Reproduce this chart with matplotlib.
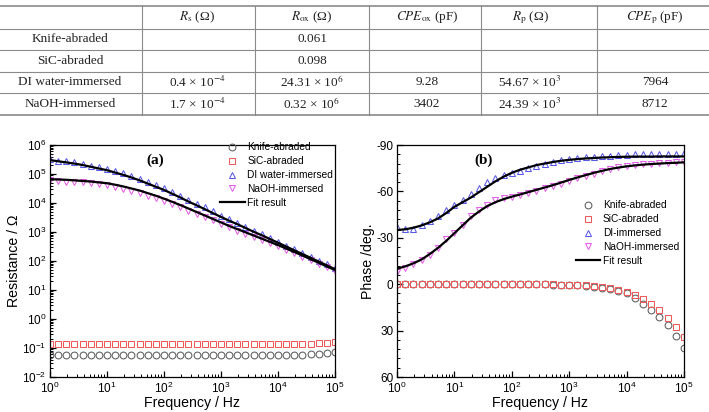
import numpy as np
import matplotlib
matplotlib.use("Agg")
import matplotlib.pyplot as plt
from matplotlib.ticker import AutoMinorLocator, LogLocator, NullFormatter

plt.rcParams['font.family'] = ['Liberation Sans', 'DejaVu Sans']
plt.rcParams['mathtext.fontset'] = 'stix'
plt.rcParams['axes.unicode_minus'] = False

# ---- table data ----
table_header = ["", r"$R_\mathrm{s}$ (Ω)", r"$R_\mathrm{ox}$ (Ω)",
                r"$CPE_\mathrm{ox}$ (pF)", r"$R_\mathrm{p}$ (Ω)",
                r"$CPE_\mathrm{p}$ (pF)"]
table_samples = ["Knife-abraded", "SiC-abraded", "DI water-immersed",
                 "NaOH-immersed"]
table_cells = [
    ["", "0.061", "", "", ""],
    ["", "0.098", "", "", ""],
    [r"0.4 × 10$^{-4}$", r"24.31 × 10$^{6}$", "9.28", r"54.67 × 10$^{3}$", "7964"],
    [r"1.7 × 10$^{-4}$", r"0.32 × 10$^{6}$", "3402", r"24.39 × 10$^{3}$", "8712"],
]

# ---- measurement data (7 points per decade) ----
freq = [1.0, 1.389, 1.931, 2.683, 3.728, 5.179, 7.197,
        10.0, 13.89, 19.31, 26.83, 37.28, 51.79, 71.97,
        100.0, 138.9, 193.1, 268.3, 372.8, 517.9, 719.7,
        1000.0, 1389, 1931, 2683, 3728, 5179, 7197,
        1.0e4, 1.389e4, 1.931e4, 2.683e4, 3.728e4, 5.179e4, 7.197e4,
        1.0e5]

# |Z| (ohm)
knife_z = [0.057, 0.057, 0.057, 0.057, 0.057, 0.057, 0.057,
           0.057, 0.057, 0.057, 0.057, 0.057, 0.057, 0.057,
           0.057, 0.057, 0.057, 0.057, 0.057, 0.057, 0.057,
           0.057, 0.057, 0.057, 0.057, 0.057, 0.057, 0.057,
           0.057, 0.057, 0.058, 0.059, 0.060, 0.062, 0.066, 0.072]
sic_z = [0.135, 0.135, 0.135, 0.135, 0.135, 0.135, 0.135,
         0.135, 0.135, 0.135, 0.135, 0.135, 0.135, 0.135,
         0.135, 0.135, 0.135, 0.135, 0.135, 0.135, 0.135,
         0.135, 0.135, 0.135, 0.135, 0.135, 0.135, 0.135,
         0.135, 0.135, 0.136, 0.138, 0.140, 0.145, 0.150, 0.160]
di_z = [3.3e5, 2.9e5, 2.7e5, 2.5e5, 2.2e5, 1.95e5, 1.7e5,
        1.45e5, 1.25e5, 1.05e5, 8.5e4, 6.8e4, 5.3e4, 4.1e4,
        3.2e4, 2.4e4, 1.8e4, 1.3e4, 9.5e3, 7.0e3, 5.1e3,
        3.7e3, 2.7e3, 2.0e3, 1.5e3, 1.1e3, 830, 610,
        450, 335, 250, 185, 138, 102, 76, 57]
naoh_z = [6.0e4, 5.6e4, 5.5e4, 5.3e4, 5.2e4, 5.0e4, 4.6e4,
          4.2e4, 3.6e4, 3.1e4, 2.6e4, 2.2e4, 1.8e4, 1.45e4,
          1.15e4, 9.0e3, 7.0e3, 5.4e3, 4.2e3, 3.2e3, 2.5e3,
          1.9e3, 1.45e3, 1.12e3, 870, 680, 530, 415,
          320, 245, 186, 140, 105, 80, 60, 45]
di_z_fit = [3.02e5, 2.75e5, 2.51e5, 2.29e5, 2.04e5, 1.78e5, 1.55e5,
            1.35e5, 1.12e5, 9.33e4, 7.59e4, 6.03e4, 4.68e4, 3.63e4,
            2.82e4, 2.09e4, 1.55e4, 1.12e4, 8.32e3, 6.17e3, 4.47e3,
            3.31e3, 2.45e3, 1.86e3, 1.38e3, 1.02e3, 776, 575,
            427, 316, 234, 174, 129, 95.5, 70.8, 52.5]
naoh_z_fit = [6.61e4, 6.46e4, 6.31e4, 6.03e4, 5.75e4, 5.50e4, 5.13e4,
              4.79e4, 4.27e4, 3.72e4, 3.16e4, 2.69e4, 2.19e4, 1.78e4,
              1.41e4, 1.10e4, 8.51e3, 6.46e3, 4.90e3, 3.72e3, 2.82e3,
              2.14e3, 1.62e3, 1.26e3, 977, 759, 589, 457,
              355, 269, 204, 155, 115, 87.1, 64.6, 49.0]

# phase (deg)
knife_ph = [0, 0, 0, 0, 0, 0, 0,
            0, 0, 0, 0, 0, 0, 0,
            0, 0, 0, 0, 0.1, 0.2, 0.3,
            0.5, 0.7, 1.0, 1.5, 2.2, 3.2, 4.5,
            6.0, 9.0, 12.5, 16.5, 21.0, 26.5, 33.5, 41.0]
sic_ph = [0, 0, 0, 0, 0, 0, 0,
          0, 0, 0, 0, 0, 0, 0,
          0, 0, 0, 0, 0, 0.1, 0.2,
          0.3, 0.5, 0.8, 1.2, 1.8, 2.6, 3.6,
          5.0, 7.0, 9.5, 13.0, 17.0, 22.0, 27.5, 34.0]
di_ph = [-37, -36, -36, -38, -41, -44, -48,
         -51.5, -54.5, -58, -62, -66, -68.5, -70.5,
         -72, -73.5, -75, -76.5, -77.5, -79, -80,
         -81, -81.5, -82, -82.5, -83, -83, -83.5,
         -83.5, -84, -84, -84, -84.5, -84.5, -84.5, -85]
naoh_ph = [-8, -10.5, -13, -15.5, -19, -23.5, -29,
           -33, -38, -44, -48, -51.5, -54.5, -56,
           -56.5, -57.5, -59, -60.5, -62, -63.5, -65,
           -67, -68.5, -70, -71.5, -73, -74.5, -75.5,
           -76.5, -77, -77.5, -78, -78.5, -78.5, -79, -79]
di_ph_fit = [-35, -35.5, -36.5, -38, -40, -42.5, -46,
             -50, -53, -56, -59.5, -63, -66.5, -69.5,
             -72, -74, -75.5, -77, -78, -79, -79.8,
             -80.4, -80.9, -81.3, -81.6, -81.9, -82.1, -82.3,
             -82.4, -82.5, -82.5, -82.5, -82.6, -82.6, -82.6, -82.6]
naoh_ph_fit = [-10, -11.5, -13.5, -16, -19.5, -23.5, -28,
               -33, -38, -43, -47, -50.5, -53, -55,
               -56.6, -58, -59.5, -61, -62.5, -64, -65.7,
               -67.4, -69, -70.5, -72, -73.3, -74.5, -75.4,
               -76.2, -76.8, -77.3, -77.7, -78, -78.3, -78.5, -78.8]

c_knife = '#5c5c5c'
c_sic = '#ec5a5a'
c_di = '#5858e8'
c_naoh = '#e25ee8'

W, H = 709, 412
fig = plt.figure(figsize=(W / 100, H / 100), dpi=100)

# ---- table drawn in pixel coords ----
tab = fig.add_axes([0, 0, 1, 1])
tab.set_xlim(0, W)
tab.set_ylim(H, 0)
tab.axis('off')
col_edges = [0, 142, 255, 369, 481, 597, 709]
col_centers = [70, 197, 312, 427, 530, 655]
row_edges = [6, 28.5, 50, 71.5, 93, 115]
for i, y in enumerate(row_edges):
    lw = 1.2 if i in (0, len(row_edges) - 1) else 0.8
    tab.plot([0, W], [y, y], color='#8a8a8a', lw=lw)
for x in col_edges[1:-1]:
    tab.plot([x, x], [row_edges[0], row_edges[-1]], color='#8a8a8a', lw=0.8)
rows = [table_header] + [[s] + c for s, c in zip(table_samples, table_cells)]
for r, row in enumerate(rows):
    yc = (row_edges[r] + row_edges[r + 1]) / 2
    for c, txt in enumerate(row):
        if txt:
            tab.text(col_centers[c], yc, txt, ha='center', va='center',
                     fontsize=9.5, family='Liberation Serif', color='#222222')


def style_axis(ax):
    ax.tick_params(which='both', direction='in', top=False, right=False,
                   labelsize=8.5, pad=2.5)
    ax.tick_params(which='major', length=4, width=0.9)
    ax.tick_params(which='minor', length=2, width=0.7)
    for s in ax.spines.values():
        s.set_linewidth(0.9)


mk = dict(ls='none', mfc='none', ms=4.9, mew=0.75)
leg_kw = dict(frameon=False, fontsize=7.3, handlelength=2.4, handletextpad=0.25,
              labelspacing=0.38, borderpad=0.2, borderaxespad=0)

# ---- (a) resistance ----
ax1 = fig.add_axes([50 / W, 1 - 377 / H, 285 / W, 232 / H])
ax1.plot(freq, knife_z, marker='o', mec=c_knife, label='Knife-abraded', **mk)
ax1.plot(freq, sic_z, marker='s', mec=c_sic, label='SiC-abraded', **mk)
ax1.plot(freq, di_z, marker='^', mec=c_di, label='DI water-immersed', **mk)
ax1.plot(freq, naoh_z, marker='v', mec=c_naoh, label='NaOH-immersed', **mk)
ax1.plot(freq, di_z_fit, color='black', lw=1.6, label='Fit result')
ax1.plot(freq, naoh_z_fit, color='black', lw=1.6)
ax1.set_xscale('log')
ax1.set_yscale('log')
ax1.set_xlim(1, 1e5)
ax1.set_ylim(1e-2, 1e6)
ax1.yaxis.set_major_locator(LogLocator(base=10, numticks=20))
ax1.yaxis.set_minor_locator(LogLocator(base=10, subs=np.arange(2, 10), numticks=20))
ax1.yaxis.set_minor_formatter(NullFormatter())
ax1.set_xlabel('Frequency / Hz', fontsize=10.2, labelpad=0)
ax1.set_ylabel('Resistance / Ω', fontsize=10.2, labelpad=1)
style_axis(ax1)
ax1.text(0.37, 0.935, '(a)', transform=ax1.transAxes, ha='center', va='center',
         fontsize=11, fontweight='bold', family='Liberation Serif')
ax1.legend(loc='upper right', bbox_to_anchor=(1.0, 1.02), **leg_kw)

# ---- (b) phase ----
ax2 = fig.add_axes([397 / W, 1 - 377 / H, 287 / W, 232 / H])
ax2.plot(freq, knife_ph, marker='o', mec=c_knife, label='Knife-abraded', **mk)
ax2.plot(freq, sic_ph, marker='s', mec=c_sic, label='SiC-abraded', **mk)
ax2.plot(freq, di_ph, marker='^', mec=c_di, label='DI-immersed', **mk)
ax2.plot(freq, naoh_ph, marker='v', mec=c_naoh, label='NaOH-immersed', **mk)
ax2.plot(freq, di_ph_fit, color='black', lw=1.6, label='Fit result')
ax2.plot(freq, naoh_ph_fit, color='black', lw=1.6)
ax2.set_xscale('log')
ax2.set_xlim(1, 1e5)
ax2.set_ylim(60, -90)
ax2.set_yticks([-90, -60, -30, 0, 30, 60])
ax2.yaxis.set_minor_locator(AutoMinorLocator(5))
ax2.set_xlabel('Frequency / Hz', fontsize=10.2, labelpad=0)
ax2.set_ylabel('Phase /deg.', fontsize=10.2, labelpad=1)
style_axis(ax2)
ax2.text(0.30, 0.935, '(b)', transform=ax2.transAxes, ha='center', va='center',
         fontsize=11, fontweight='bold', family='Liberation Serif')
ax2.legend(loc='upper right', bbox_to_anchor=(0.99, 0.77), **leg_kw)

fig.savefig('out.png', dpi=100)
